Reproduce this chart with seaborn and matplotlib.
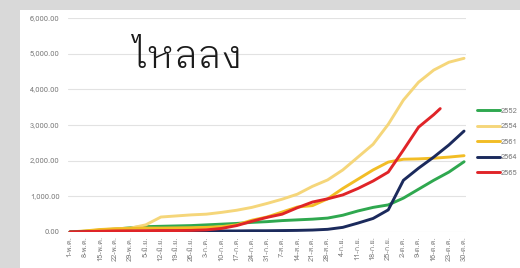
import matplotlib
matplotlib.use("Agg")
import matplotlib.pyplot as plt
import numpy as np
import pandas as pd
import seaborn as sns
from matplotlib import font_manager, ft2font
from matplotlib.patches import Rectangle

# weekly dates, 1 May .. 30 Oct (day offsets from 1 May)
week_days = list(range(0, 183, 7))
week_labels = [
    "1-พ.ค.", "8-พ.ค.", "15-พ.ค.", "22-พ.ค.", "29-พ.ค.",
    "5-มิ.ย.", "12-มิ.ย.", "19-มิ.ย.", "26-มิ.ย.",
    "3-ก.ค.", "10-ก.ค.", "17-ก.ค.", "24-ก.ค.", "31-ก.ค.",
    "7-ส.ค.", "14-ส.ค.", "21-ส.ค.", "28-ส.ค.",
    "4-ก.ย.", "11-ก.ย.", "18-ก.ย.", "25-ก.ย.",
    "2-ต.ค.", "9-ต.ค.", "16-ต.ค.", "23-ต.ค.", "30-ต.ค.",
]

years = ["2552", "2554", "2561", "2564", "2565"]
colors = ["#2fa84f", "#f5d67a", "#f2bd25", "#1b2a5c", "#e02428"]

flow_2552 = [0, 20, 50, 80, 120, 150, 160, 170, 180, 200, 220, 240, 270, 290,
             320, 340, 360, 390, 470, 590, 690, 760, 950, 1200, 1450, 1680, 1970]
flow_2554 = [0, 20, 60, 90, 110, 200, 420, 450, 480, 500, 550, 610, 690, 800,
             920, 1060, 1280, 1460, 1740, 2100, 2460, 3020, 3700, 4200, 4540, 4760, 4870]
flow_2561 = [0, 30, 70, 90, 100, 110, 110, 115, 120, 130, 150, 200, 330, 420,
             560, 700, 740, 930, 1220, 1480, 1740, 1960, 2040, 2050, 2070, 2100, 2140]
flow_2564 = [0, 5, 10, 15, 20, 20, 25, 25, 25, 30, 30, 30, 35, 35,
             40, 45, 55, 75, 130, 250, 380, 620, 1450, 1790, 2100, 2440, 2830]
# 2565 stops mid-October
red_days = week_days[:25] + [171]
flow_2565 = [0, 10, 20, 30, 30, 35, 40, 40, 45, 60, 100, 180, 300, 410,
             500, 680, 840, 930, 1040, 1220, 1430, 1680, 2300, 2940, 3290, 3460]


def thai_fonts():
    found = []
    for f in font_manager.fontManager.ttflist:
        try:
            if 0x0E44 in ft2font.FT2Font(f.fname).get_charmap():
                w = f.weight if isinstance(f.weight, int) else 400
                found.append((w, f.name, f.fname))
        except Exception:
            continue
    return found


frames = []
for year, days, vals in [
    ("2552", week_days, flow_2552),
    ("2554", week_days, flow_2554),
    ("2561", week_days, flow_2561),
    ("2564", week_days, flow_2564),
    ("2565", red_days, flow_2565),
]:
    frames.append(pd.DataFrame({"day": days, "value": vals, "year": year}))
df = pd.concat(frames, ignore_index=True)

sns.set_style("white")
candidates = thai_fonts()
regular = [c for c in candidates if c[0] == 400] or candidates
plt.rcParams["font.family"] = ([regular[0][1]] if regular else []) + ["DejaVu Sans"]

# looped Thai face, a little lighter than regular, for the big title
title_font = None
looped = [c for c in candidates if "Looped" in c[1]] or regular
if looped:
    pick = min(looped, key=lambda c: abs(c[0] - 330))
    title_font = font_manager.FontProperties(fname=pick[2], size=28)

fig = plt.figure(figsize=(5.2, 2.68), dpi=100)
fig.patch.set_facecolor("#d9d9d9")
fig.add_artist(Rectangle((20 / 520, 0), 1, 258 / 268, transform=fig.transFigure,
                         facecolor="white", edgecolor="none", zorder=-10))

ax = fig.add_axes([68 / 520, 36 / 268, 398 / 520, 214 / 268])
ax.set_facecolor("none")
sns.lineplot(data=df, x="day", y="value", hue="year", hue_order=years,
             palette=colors, linewidth=2.1, ax=ax, sort=True)

ax.set_xlim(-0.9, 182.9)
ax.set_ylim(0, 6000)
ax.set_yticks(range(0, 6001, 1000))
ax.set_yticklabels([f"{v:,.2f}" for v in range(0, 6001, 1000)])
ax.set_xticks(week_days)
ax.set_xticklabels(week_labels, rotation=90)
ax.tick_params(axis="both", length=0, labelsize=5.4, labelcolor="#7f7f7f")
ax.tick_params(axis="y", pad=6)
ax.tick_params(axis="x", pad=3)
ax.set_xlabel("")
ax.set_ylabel("")
ax.yaxis.grid(True, color="#e2e2e2", linewidth=0.8)
ax.xaxis.grid(False)
sns.despine(ax=ax, left=True, bottom=True)

ax.legend(loc="center left", bbox_to_anchor=(477 / 520, 1 - 142 / 268),
          bbox_transform=fig.transFigure, frameon=False, fontsize=5.4,
          labelcolor="#7f7f7f", handlelength=3.0, handletextpad=0.2,
          labelspacing=1.1, borderpad=0, borderaxespad=0)

fig.text(188 / 520, 1 - 57 / 268, "ไหลลง", fontproperties=title_font,
         fontsize=28, ha="center", va="center", color="#1a1a1a")

fig.savefig("out.png", dpi=100, facecolor=fig.get_facecolor())
